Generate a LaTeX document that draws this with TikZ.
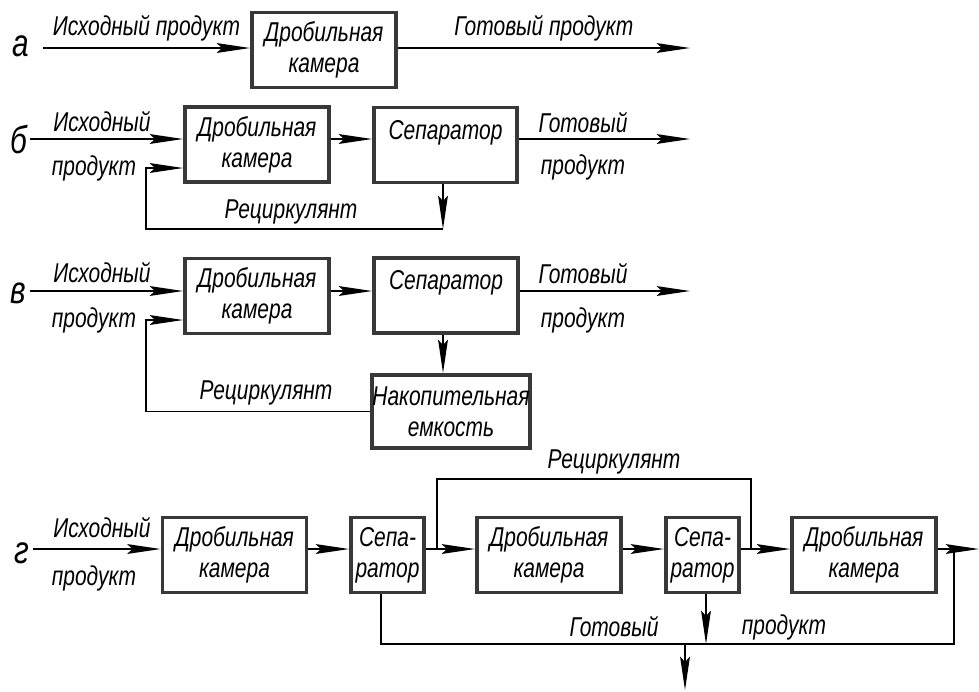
\documentclass[tikz,border=0pt]{standalone}
\usepackage{fontspec}
\setmainfont{Liberation Sans}[FakeStretch=0.77]
\usetikzlibrary{arrows.meta}
\tikzset{
  box/.style={draw=black!78, line width=2.2pt, minimum width=2.88cm, minimum height=1.5cm, align=center, inner sep=0pt},
  sepbox/.style={box, minimum width=1.46cm},
  lbl/.style={font=\fontsize{22}{24}\selectfont\itshape},
  >={Stealth[length=19pt,width=5.6pt,inset=3pt]}
}
\begin{document}
\begin{tikzpicture}[x=0.02cm,y=-0.02cm,line width=0.8pt,
    every node/.style={font=\fontsize{15.5}{17.6}\selectfont\itshape}]
    \useasboundingbox (0,0) rectangle (979,691);
    % а
    \node[lbl] (a) at (21,46) {а};
    \node[box] (Ka) at (324,50) {Дробильная\\камера};
    \coordinate (ina) at (43,48);
    \coordinate (outa) at (690,48);
    \draw[->] (ina) -- (ina -| Ka.west) node[midway, above] (ina1) {Исходный продукт};
    \draw[->] (Ka.east |- outa) -- (outa) node[midway, above] (outa1) {Готовый продукт};
    % б
    \node[lbl] (b) at (19,140) {б};
    \node[box] (Kb) at (257,144.5) {Дробильная\\камера};
    \node[box, minimum width=2.86cm] (Sb) at (445.5,145) {Сепаратор\\\mbox{}};
    \coordinate (inb) at (30,139);
    \coordinate (outb) at (690,139);
    \coordinate (cb) at (443,229);
    \coordinate (rb) at (146,168);
    \node (inb1) at (102,122) {Исходный};
    \node (inb2) at (94,168) {продукт};
    \node (outb1) at (583,123) {Готовый};
    \node (outb2) at (583,167) {продукт};
    \node (recb) at (291,212) {Рециркулянт};
    \draw[->] (inb) -- (inb -| Kb.west);
    \draw[->] (Kb.east |- inb) -- (inb -| Sb.west);
    \draw[->] (Sb.east |- outb) -- (outb);
    \draw[->] (Sb.south -| cb) -- (cb);
    \draw[->] (cb) -| (rb) -- (rb -| Kb.west);
    % в
    \node[lbl] (v) at (18,293) {в};
    \node[box] (Kv) at (257,296) {Дробильная\\камера};
    \node[box, minimum width=2.88cm] (Sv) at (446,295.5) {Сепаратор\\\mbox{}};
    \node[box, minimum width=3.08cm, minimum height=1.46cm] (St) at (451,411.5) {Накопительная\\емкость};
    \coordinate (inv) at (30,291);
    \coordinate (outv) at (690,291);
    \coordinate (rv) at (146,320);
    \node (inv1) at (102,273) {Исходный};
    \node (inv2) at (94,320) {продукт};
    \node (outv1) at (583,274) {Готовый};
    \node (outv2) at (583,320) {продукт};
    \node (recv) at (266,393) {Рециркулянт};
    \draw[->] (inv) -- (inv -| Kv.west);
    \draw[->] (Kv.east |- inv) -- (inv -| Sv.west);
    \draw[->] (Sv.east |- outv) -- (outv);
    \draw[->] ([xshift=-0.06cm]Sv.south) -- ([xshift=-0.06cm]Sv.south |- St.north);
    \draw[->] (St.west) -| (rv) -- (rv -| Kv.west);
    % г
    \node[lbl] (g) at (22,553) {г};
    \node[box] (K1g) at (234.5,555) {Дробильная\\камера};
    \node[sepbox] (S1g) at (387.5,555) {Сепа-\\ратор};
    \node[box] (K2g) at (549,555) {Дробильная\\камера};
    \node[sepbox] (S2g) at (702.5,555) {Сепа-\\ратор};
    \node[box] (K3g) at (864,555) {Дробильная\\камера};
    \coordinate (ing) at (33,549);
    \coordinate (outg) at (979,549);
    \coordinate (r1) at (437,549);
    \coordinate (r2) at (751,549);
    \coordinate (rtop) at (751,479);
    \coordinate (bl) at (381,644);
    \coordinate (br) at (954,644);
    \coordinate (d2) at (706,644);
    \coordinate (d1) at (685,644);
    \coordinate (dout) at (685,690);
    \node (ing1) at (102,528) {Исходный};
    \node (ing2) at (94,578) {продукт};
    \node (recg) at (614,462) {Рециркулянт};
    \node (outg1) at (614,627) {Готовый};
    \node (outg2) at (784,627) {продукт};
    \draw[->] (ing) -- (ing -| K1g.west);
    \draw[->] (K1g.east |- ing) -- (ing -| S1g.west);
    \draw[->] (S1g.east |- ing) -- (ing -| K2g.west);
    \draw[->] (K2g.east |- ing) -- (ing -| S2g.west);
    \draw[->] (S2g.east |- ing) -- (ing -| K3g.west);
    \draw[->] (K3g.east |- ing) -- (outg);
    \draw (r1) |- (rtop) -- (r2);
    \draw (S1g.south -| bl) -- (bl) -- (br) -- (br |- ing);
    \draw[->] (S2g.south -| d2) -- (d2);
    \draw[->] (d1) -- (dout);
\end{tikzpicture}
\end{document}
